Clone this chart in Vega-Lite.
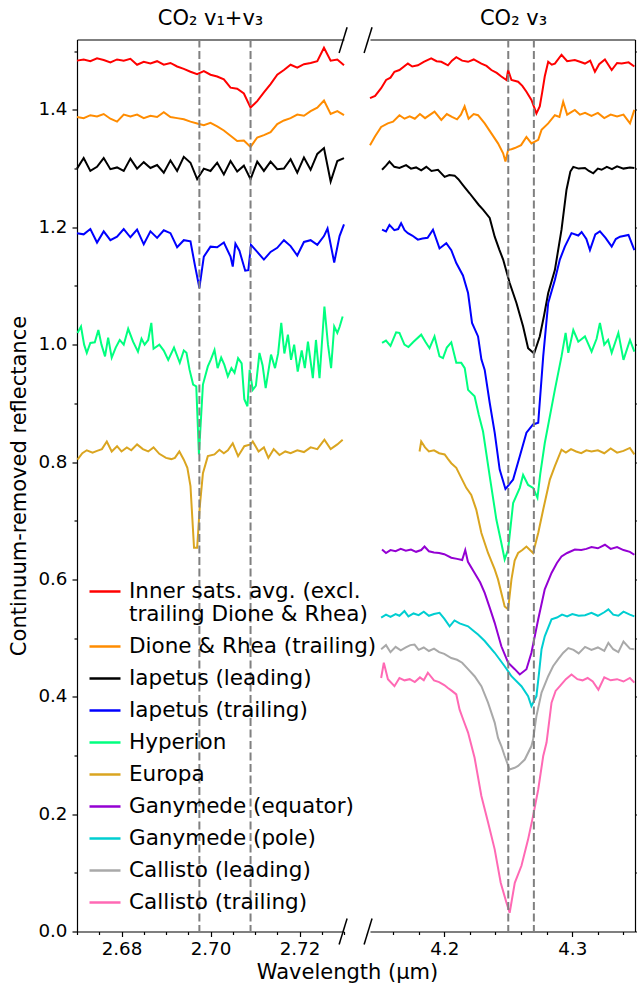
{
"$schema": "https://vega.github.io/schema/vega-lite/v6.json",
"padding": {"left": 8, "top": 7.5, "right": 0, "bottom": 0},
"config": {
 "font": "DejaVu Sans",
 "view": {"stroke": null},
 "axis": {"grid": false, "domainColor": "#000", "tickColor": "#000", "labelColor": "#000", "titleColor": "#000", "domainWidth": 1.2, "tickWidth": 1.2, "labelFontSize": 18.3, "titleFontSize": 21, "titleFontWeight": "normal", "labelFont": "DejaVu Sans", "titleFont": "DejaVu Sans"},
 "title": {"font": "DejaVu Sans", "fontSize": 21, "fontWeight": "normal", "color": "#000"}
},
"datasets": {
 "left": [
{"series":"Inner sats. avg. (excl. trailing Dione & Rhea)","x":2.6700,"y":1.484},
{"series":"Inner sats. avg. (excl. trailing Dione & Rhea)","x":2.6715,"y":1.486},
{"series":"Inner sats. avg. (excl. trailing Dione & Rhea)","x":2.6730,"y":1.483},
{"series":"Inner sats. avg. (excl. trailing Dione & Rhea)","x":2.6745,"y":1.488},
{"series":"Inner sats. avg. (excl. trailing Dione & Rhea)","x":2.6760,"y":1.485},
{"series":"Inner sats. avg. (excl. trailing Dione & Rhea)","x":2.6775,"y":1.481},
{"series":"Inner sats. avg. (excl. trailing Dione & Rhea)","x":2.6790,"y":1.486},
{"series":"Inner sats. avg. (excl. trailing Dione & Rhea)","x":2.6805,"y":1.484},
{"series":"Inner sats. avg. (excl. trailing Dione & Rhea)","x":2.6820,"y":1.487},
{"series":"Inner sats. avg. (excl. trailing Dione & Rhea)","x":2.6835,"y":1.477},
{"series":"Inner sats. avg. (excl. trailing Dione & Rhea)","x":2.6850,"y":1.482},
{"series":"Inner sats. avg. (excl. trailing Dione & Rhea)","x":2.6865,"y":1.479},
{"series":"Inner sats. avg. (excl. trailing Dione & Rhea)","x":2.6880,"y":1.483},
{"series":"Inner sats. avg. (excl. trailing Dione & Rhea)","x":2.6895,"y":1.477},
{"series":"Inner sats. avg. (excl. trailing Dione & Rhea)","x":2.6910,"y":1.480},
{"series":"Inner sats. avg. (excl. trailing Dione & Rhea)","x":2.6925,"y":1.474},
{"series":"Inner sats. avg. (excl. trailing Dione & Rhea)","x":2.6940,"y":1.470},
{"series":"Inner sats. avg. (excl. trailing Dione & Rhea)","x":2.6955,"y":1.465},
{"series":"Inner sats. avg. (excl. trailing Dione & Rhea)","x":2.6970,"y":1.461},
{"series":"Inner sats. avg. (excl. trailing Dione & Rhea)","x":2.6985,"y":1.466},
{"series":"Inner sats. avg. (excl. trailing Dione & Rhea)","x":2.7000,"y":1.460},
{"series":"Inner sats. avg. (excl. trailing Dione & Rhea)","x":2.7015,"y":1.457},
{"series":"Inner sats. avg. (excl. trailing Dione & Rhea)","x":2.7030,"y":1.452},
{"series":"Inner sats. avg. (excl. trailing Dione & Rhea)","x":2.7045,"y":1.438},
{"series":"Inner sats. avg. (excl. trailing Dione & Rhea)","x":2.7060,"y":1.436},
{"series":"Inner sats. avg. (excl. trailing Dione & Rhea)","x":2.7075,"y":1.428},
{"series":"Inner sats. avg. (excl. trailing Dione & Rhea)","x":2.7090,"y":1.404},
{"series":"Inner sats. avg. (excl. trailing Dione & Rhea)","x":2.7105,"y":1.415},
{"series":"Inner sats. avg. (excl. trailing Dione & Rhea)","x":2.7120,"y":1.430},
{"series":"Inner sats. avg. (excl. trailing Dione & Rhea)","x":2.7135,"y":1.444},
{"series":"Inner sats. avg. (excl. trailing Dione & Rhea)","x":2.7150,"y":1.460},
{"series":"Inner sats. avg. (excl. trailing Dione & Rhea)","x":2.7165,"y":1.468},
{"series":"Inner sats. avg. (excl. trailing Dione & Rhea)","x":2.7180,"y":1.477},
{"series":"Inner sats. avg. (excl. trailing Dione & Rhea)","x":2.7195,"y":1.472},
{"series":"Inner sats. avg. (excl. trailing Dione & Rhea)","x":2.7210,"y":1.478},
{"series":"Inner sats. avg. (excl. trailing Dione & Rhea)","x":2.7225,"y":1.480},
{"series":"Inner sats. avg. (excl. trailing Dione & Rhea)","x":2.7240,"y":1.483},
{"series":"Inner sats. avg. (excl. trailing Dione & Rhea)","x":2.7255,"y":1.506},
{"series":"Inner sats. avg. (excl. trailing Dione & Rhea)","x":2.7270,"y":1.484},
{"series":"Inner sats. avg. (excl. trailing Dione & Rhea)","x":2.7285,"y":1.486},
{"series":"Inner sats. avg. (excl. trailing Dione & Rhea)","x":2.7300,"y":1.476},
{"series":"Dione & Rhea (trailing)","x":2.6700,"y":1.388},
{"series":"Dione & Rhea (trailing)","x":2.6715,"y":1.386},
{"series":"Dione & Rhea (trailing)","x":2.6730,"y":1.391},
{"series":"Dione & Rhea (trailing)","x":2.6745,"y":1.389},
{"series":"Dione & Rhea (trailing)","x":2.6760,"y":1.393},
{"series":"Dione & Rhea (trailing)","x":2.6775,"y":1.385},
{"series":"Dione & Rhea (trailing)","x":2.6790,"y":1.380},
{"series":"Dione & Rhea (trailing)","x":2.6805,"y":1.392},
{"series":"Dione & Rhea (trailing)","x":2.6820,"y":1.389},
{"series":"Dione & Rhea (trailing)","x":2.6835,"y":1.392},
{"series":"Dione & Rhea (trailing)","x":2.6850,"y":1.386},
{"series":"Dione & Rhea (trailing)","x":2.6865,"y":1.390},
{"series":"Dione & Rhea (trailing)","x":2.6880,"y":1.388},
{"series":"Dione & Rhea (trailing)","x":2.6895,"y":1.396},
{"series":"Dione & Rhea (trailing)","x":2.6910,"y":1.388},
{"series":"Dione & Rhea (trailing)","x":2.6925,"y":1.386},
{"series":"Dione & Rhea (trailing)","x":2.6940,"y":1.384},
{"series":"Dione & Rhea (trailing)","x":2.6955,"y":1.380},
{"series":"Dione & Rhea (trailing)","x":2.6970,"y":1.377},
{"series":"Dione & Rhea (trailing)","x":2.6985,"y":1.374},
{"series":"Dione & Rhea (trailing)","x":2.7000,"y":1.378},
{"series":"Dione & Rhea (trailing)","x":2.7015,"y":1.372},
{"series":"Dione & Rhea (trailing)","x":2.7030,"y":1.365},
{"series":"Dione & Rhea (trailing)","x":2.7045,"y":1.356},
{"series":"Dione & Rhea (trailing)","x":2.7060,"y":1.347},
{"series":"Dione & Rhea (trailing)","x":2.7075,"y":1.348},
{"series":"Dione & Rhea (trailing)","x":2.7090,"y":1.337},
{"series":"Dione & Rhea (trailing)","x":2.7105,"y":1.353},
{"series":"Dione & Rhea (trailing)","x":2.7120,"y":1.357},
{"series":"Dione & Rhea (trailing)","x":2.7135,"y":1.362},
{"series":"Dione & Rhea (trailing)","x":2.7150,"y":1.376},
{"series":"Dione & Rhea (trailing)","x":2.7165,"y":1.382},
{"series":"Dione & Rhea (trailing)","x":2.7180,"y":1.386},
{"series":"Dione & Rhea (trailing)","x":2.7195,"y":1.392},
{"series":"Dione & Rhea (trailing)","x":2.7210,"y":1.390},
{"series":"Dione & Rhea (trailing)","x":2.7225,"y":1.398},
{"series":"Dione & Rhea (trailing)","x":2.7240,"y":1.404},
{"series":"Dione & Rhea (trailing)","x":2.7255,"y":1.416},
{"series":"Dione & Rhea (trailing)","x":2.7270,"y":1.393},
{"series":"Dione & Rhea (trailing)","x":2.7285,"y":1.398},
{"series":"Dione & Rhea (trailing)","x":2.7300,"y":1.391},
{"series":"Iapetus (leading)","x":2.6700,"y":1.300},
{"series":"Iapetus (leading)","x":2.6715,"y":1.318},
{"series":"Iapetus (leading)","x":2.6730,"y":1.296},
{"series":"Iapetus (leading)","x":2.6745,"y":1.303},
{"series":"Iapetus (leading)","x":2.6760,"y":1.318},
{"series":"Iapetus (leading)","x":2.6775,"y":1.299},
{"series":"Iapetus (leading)","x":2.6790,"y":1.302},
{"series":"Iapetus (leading)","x":2.6805,"y":1.296},
{"series":"Iapetus (leading)","x":2.6820,"y":1.317},
{"series":"Iapetus (leading)","x":2.6835,"y":1.300},
{"series":"Iapetus (leading)","x":2.6850,"y":1.311},
{"series":"Iapetus (leading)","x":2.6865,"y":1.301},
{"series":"Iapetus (leading)","x":2.6880,"y":1.306},
{"series":"Iapetus (leading)","x":2.6895,"y":1.293},
{"series":"Iapetus (leading)","x":2.6910,"y":1.314},
{"series":"Iapetus (leading)","x":2.6925,"y":1.296},
{"series":"Iapetus (leading)","x":2.6940,"y":1.320},
{"series":"Iapetus (leading)","x":2.6955,"y":1.310},
{"series":"Iapetus (leading)","x":2.6970,"y":1.282},
{"series":"Iapetus (leading)","x":2.6985,"y":1.300},
{"series":"Iapetus (leading)","x":2.7000,"y":1.296},
{"series":"Iapetus (leading)","x":2.7015,"y":1.310},
{"series":"Iapetus (leading)","x":2.7030,"y":1.290},
{"series":"Iapetus (leading)","x":2.7045,"y":1.313},
{"series":"Iapetus (leading)","x":2.7060,"y":1.295},
{"series":"Iapetus (leading)","x":2.7075,"y":1.305},
{"series":"Iapetus (leading)","x":2.7090,"y":1.282},
{"series":"Iapetus (leading)","x":2.7105,"y":1.312},
{"series":"Iapetus (leading)","x":2.7120,"y":1.296},
{"series":"Iapetus (leading)","x":2.7135,"y":1.312},
{"series":"Iapetus (leading)","x":2.7150,"y":1.299},
{"series":"Iapetus (leading)","x":2.7165,"y":1.300},
{"series":"Iapetus (leading)","x":2.7180,"y":1.316},
{"series":"Iapetus (leading)","x":2.7195,"y":1.293},
{"series":"Iapetus (leading)","x":2.7210,"y":1.319},
{"series":"Iapetus (leading)","x":2.7225,"y":1.298},
{"series":"Iapetus (leading)","x":2.7240,"y":1.325},
{"series":"Iapetus (leading)","x":2.7255,"y":1.335},
{"series":"Iapetus (leading)","x":2.7270,"y":1.278},
{"series":"Iapetus (leading)","x":2.7285,"y":1.313},
{"series":"Iapetus (leading)","x":2.7300,"y":1.318},
{"series":"Iapetus (trailing)","x":2.6700,"y":1.190},
{"series":"Iapetus (trailing)","x":2.6715,"y":1.188},
{"series":"Iapetus (trailing)","x":2.6730,"y":1.197},
{"series":"Iapetus (trailing)","x":2.6745,"y":1.174},
{"series":"Iapetus (trailing)","x":2.6760,"y":1.193},
{"series":"Iapetus (trailing)","x":2.6775,"y":1.178},
{"series":"Iapetus (trailing)","x":2.6790,"y":1.184},
{"series":"Iapetus (trailing)","x":2.6805,"y":1.197},
{"series":"Iapetus (trailing)","x":2.6820,"y":1.183},
{"series":"Iapetus (trailing)","x":2.6835,"y":1.196},
{"series":"Iapetus (trailing)","x":2.6850,"y":1.171},
{"series":"Iapetus (trailing)","x":2.6865,"y":1.193},
{"series":"Iapetus (trailing)","x":2.6880,"y":1.182},
{"series":"Iapetus (trailing)","x":2.6895,"y":1.195},
{"series":"Iapetus (trailing)","x":2.6910,"y":1.190},
{"series":"Iapetus (trailing)","x":2.6925,"y":1.166},
{"series":"Iapetus (trailing)","x":2.6940,"y":1.178},
{"series":"Iapetus (trailing)","x":2.6955,"y":1.176},
{"series":"Iapetus (trailing)","x":2.6965,"y":1.135},
{"series":"Iapetus (trailing)","x":2.6975,"y":1.097},
{"series":"Iapetus (trailing)","x":2.6985,"y":1.150},
{"series":"Iapetus (trailing)","x":2.7000,"y":1.167},
{"series":"Iapetus (trailing)","x":2.7015,"y":1.166},
{"series":"Iapetus (trailing)","x":2.7030,"y":1.174},
{"series":"Iapetus (trailing)","x":2.7045,"y":1.150},
{"series":"Iapetus (trailing)","x":2.7050,"y":1.133},
{"series":"Iapetus (trailing)","x":2.7056,"y":1.172},
{"series":"Iapetus (trailing)","x":2.7065,"y":1.160},
{"series":"Iapetus (trailing)","x":2.7078,"y":1.126},
{"series":"Iapetus (trailing)","x":2.7085,"y":1.127},
{"series":"Iapetus (trailing)","x":2.7091,"y":1.170},
{"series":"Iapetus (trailing)","x":2.7105,"y":1.158},
{"series":"Iapetus (trailing)","x":2.7120,"y":1.145},
{"series":"Iapetus (trailing)","x":2.7135,"y":1.158},
{"series":"Iapetus (trailing)","x":2.7150,"y":1.165},
{"series":"Iapetus (trailing)","x":2.7165,"y":1.178},
{"series":"Iapetus (trailing)","x":2.7180,"y":1.168},
{"series":"Iapetus (trailing)","x":2.7195,"y":1.152},
{"series":"Iapetus (trailing)","x":2.7210,"y":1.175},
{"series":"Iapetus (trailing)","x":2.7225,"y":1.178},
{"series":"Iapetus (trailing)","x":2.7240,"y":1.170},
{"series":"Iapetus (trailing)","x":2.7255,"y":1.185},
{"series":"Iapetus (trailing)","x":2.7263,"y":1.198},
{"series":"Iapetus (trailing)","x":2.7278,"y":1.140},
{"series":"Iapetus (trailing)","x":2.7290,"y":1.185},
{"series":"Iapetus (trailing)","x":2.7300,"y":1.205},
{"series":"Hyperion","x":2.6701,"y":1.020},
{"series":"Hyperion","x":2.6709,"y":1.031},
{"series":"Hyperion","x":2.6716,"y":1.000},
{"series":"Hyperion","x":2.6722,"y":0.986},
{"series":"Hyperion","x":2.6730,"y":1.003},
{"series":"Hyperion","x":2.6740,"y":1.004},
{"series":"Hyperion","x":2.6748,"y":1.025},
{"series":"Hyperion","x":2.6755,"y":1.000},
{"series":"Hyperion","x":2.6763,"y":0.980},
{"series":"Hyperion","x":2.6770,"y":1.012},
{"series":"Hyperion","x":2.6778,"y":0.978},
{"series":"Hyperion","x":2.6787,"y":0.995},
{"series":"Hyperion","x":2.6796,"y":1.008},
{"series":"Hyperion","x":2.6805,"y":1.000},
{"series":"Hyperion","x":2.6815,"y":1.027},
{"series":"Hyperion","x":2.6826,"y":1.005},
{"series":"Hyperion","x":2.6837,"y":0.988},
{"series":"Hyperion","x":2.6845,"y":1.010},
{"series":"Hyperion","x":2.6852,"y":1.000},
{"series":"Hyperion","x":2.6860,"y":1.008},
{"series":"Hyperion","x":2.6867,"y":1.037},
{"series":"Hyperion","x":2.6872,"y":0.993},
{"series":"Hyperion","x":2.6885,"y":1.000},
{"series":"Hyperion","x":2.6895,"y":0.990},
{"series":"Hyperion","x":2.6905,"y":0.974},
{"series":"Hyperion","x":2.6918,"y":0.995},
{"series":"Hyperion","x":2.6931,"y":0.969},
{"series":"Hyperion","x":2.6940,"y":0.990},
{"series":"Hyperion","x":2.6946,"y":0.986},
{"series":"Hyperion","x":2.6953,"y":0.957},
{"series":"Hyperion","x":2.6961,"y":0.932},
{"series":"Hyperion","x":2.6968,"y":0.929},
{"series":"Hyperion","x":2.6974,"y":0.813},
{"series":"Hyperion","x":2.6983,"y":0.932},
{"series":"Hyperion","x":2.6994,"y":0.963},
{"series":"Hyperion","x":2.7001,"y":0.975},
{"series":"Hyperion","x":2.7009,"y":0.991},
{"series":"Hyperion","x":2.7016,"y":0.960},
{"series":"Hyperion","x":2.7024,"y":0.978},
{"series":"Hyperion","x":2.7031,"y":0.966},
{"series":"Hyperion","x":2.7039,"y":0.946},
{"series":"Hyperion","x":2.7047,"y":0.960},
{"series":"Hyperion","x":2.7054,"y":0.952},
{"series":"Hyperion","x":2.7062,"y":0.977},
{"series":"Hyperion","x":2.7070,"y":0.968},
{"series":"Hyperion","x":2.7076,"y":0.907},
{"series":"Hyperion","x":2.7083,"y":0.895},
{"series":"Hyperion","x":2.7088,"y":0.957},
{"series":"Hyperion","x":2.7095,"y":0.923},
{"series":"Hyperion","x":2.7102,"y":0.930},
{"series":"Hyperion","x":2.7110,"y":0.986},
{"series":"Hyperion","x":2.7117,"y":0.965},
{"series":"Hyperion","x":2.7124,"y":0.926},
{"series":"Hyperion","x":2.7136,"y":0.983},
{"series":"Hyperion","x":2.7145,"y":0.960},
{"series":"Hyperion","x":2.7152,"y":0.985},
{"series":"Hyperion","x":2.7159,"y":1.037},
{"series":"Hyperion","x":2.7166,"y":0.985},
{"series":"Hyperion","x":2.7174,"y":1.017},
{"series":"Hyperion","x":2.7181,"y":0.974},
{"series":"Hyperion","x":2.7188,"y":1.000},
{"series":"Hyperion","x":2.7196,"y":0.954},
{"series":"Hyperion","x":2.7205,"y":0.990},
{"series":"Hyperion","x":2.7212,"y":0.960},
{"series":"Hyperion","x":2.7219,"y":1.005},
{"series":"Hyperion","x":2.7230,"y":0.943},
{"series":"Hyperion","x":2.7237,"y":1.008},
{"series":"Hyperion","x":2.7245,"y":0.943},
{"series":"Hyperion","x":2.7256,"y":1.065},
{"series":"Hyperion","x":2.7264,"y":1.000},
{"series":"Hyperion","x":2.7271,"y":0.960},
{"series":"Hyperion","x":2.7278,"y":1.031},
{"series":"Hyperion","x":2.7285,"y":1.020},
{"series":"Hyperion","x":2.7290,"y":1.030},
{"series":"Hyperion","x":2.7297,"y":1.048},
{"series":"Europa","x":2.6701,"y":0.804},
{"series":"Europa","x":2.6712,"y":0.815},
{"series":"Europa","x":2.6722,"y":0.820},
{"series":"Europa","x":2.6735,"y":0.816},
{"series":"Europa","x":2.6745,"y":0.819},
{"series":"Europa","x":2.6756,"y":0.822},
{"series":"Europa","x":2.6767,"y":0.835},
{"series":"Europa","x":2.6778,"y":0.818},
{"series":"Europa","x":2.6790,"y":0.827},
{"series":"Europa","x":2.6800,"y":0.818},
{"series":"Europa","x":2.6812,"y":0.825},
{"series":"Europa","x":2.6822,"y":0.820},
{"series":"Europa","x":2.6835,"y":0.830},
{"series":"Europa","x":2.6848,"y":0.822},
{"series":"Europa","x":2.6860,"y":0.818},
{"series":"Europa","x":2.6872,"y":0.825},
{"series":"Europa","x":2.6885,"y":0.814},
{"series":"Europa","x":2.6900,"y":0.807},
{"series":"Europa","x":2.6912,"y":0.805},
{"series":"Europa","x":2.6920,"y":0.807},
{"series":"Europa","x":2.6930,"y":0.818},
{"series":"Europa","x":2.6940,"y":0.804},
{"series":"Europa","x":2.6948,"y":0.790},
{"series":"Europa","x":2.6955,"y":0.759},
{"series":"Europa","x":2.6963,"y":0.654},
{"series":"Europa","x":2.6970,"y":0.654},
{"series":"Europa","x":2.6976,"y":0.725},
{"series":"Europa","x":2.6983,"y":0.781},
{"series":"Europa","x":2.6994,"y":0.810},
{"series":"Europa","x":2.7009,"y":0.813},
{"series":"Europa","x":2.7020,"y":0.821},
{"series":"Europa","x":2.7030,"y":0.815},
{"series":"Europa","x":2.7039,"y":0.820},
{"series":"Europa","x":2.7050,"y":0.832},
{"series":"Europa","x":2.7062,"y":0.810},
{"series":"Europa","x":2.7076,"y":0.827},
{"series":"Europa","x":2.7090,"y":0.830},
{"series":"Europa","x":2.7095,"y":0.835},
{"series":"Europa","x":2.7108,"y":0.818},
{"series":"Europa","x":2.7120,"y":0.825},
{"series":"Europa","x":2.7130,"y":0.807},
{"series":"Europa","x":2.7142,"y":0.822},
{"series":"Europa","x":2.7155,"y":0.812},
{"series":"Europa","x":2.7168,"y":0.818},
{"series":"Europa","x":2.7180,"y":0.815},
{"series":"Europa","x":2.7195,"y":0.820},
{"series":"Europa","x":2.7210,"y":0.817},
{"series":"Europa","x":2.7225,"y":0.825},
{"series":"Europa","x":2.7240,"y":0.822},
{"series":"Europa","x":2.7256,"y":0.838},
{"series":"Europa","x":2.7270,"y":0.822},
{"series":"Europa","x":2.7285,"y":0.830},
{"series":"Europa","x":2.7297,"y":0.838}
 ],
 "right": [
{"series":"Inner sats. avg. (excl. trailing Dione & Rhea)","x":4.1420,"y":1.420},
{"series":"Inner sats. avg. (excl. trailing Dione & Rhea)","x":4.1460,"y":1.424},
{"series":"Inner sats. avg. (excl. trailing Dione & Rhea)","x":4.1507,"y":1.437},
{"series":"Inner sats. avg. (excl. trailing Dione & Rhea)","x":4.1546,"y":1.451},
{"series":"Inner sats. avg. (excl. trailing Dione & Rhea)","x":4.1580,"y":1.455},
{"series":"Inner sats. avg. (excl. trailing Dione & Rhea)","x":4.1611,"y":1.465},
{"series":"Inner sats. avg. (excl. trailing Dione & Rhea)","x":4.1650,"y":1.468},
{"series":"Inner sats. avg. (excl. trailing Dione & Rhea)","x":4.1716,"y":1.479},
{"series":"Inner sats. avg. (excl. trailing Dione & Rhea)","x":4.1750,"y":1.474},
{"series":"Inner sats. avg. (excl. trailing Dione & Rhea)","x":4.1794,"y":1.476},
{"series":"Inner sats. avg. (excl. trailing Dione & Rhea)","x":4.1840,"y":1.482},
{"series":"Inner sats. avg. (excl. trailing Dione & Rhea)","x":4.1898,"y":1.488},
{"series":"Inner sats. avg. (excl. trailing Dione & Rhea)","x":4.1940,"y":1.483},
{"series":"Inner sats. avg. (excl. trailing Dione & Rhea)","x":4.1977,"y":1.482},
{"series":"Inner sats. avg. (excl. trailing Dione & Rhea)","x":4.2029,"y":1.476},
{"series":"Inner sats. avg. (excl. trailing Dione & Rhea)","x":4.2060,"y":1.484},
{"series":"Inner sats. avg. (excl. trailing Dione & Rhea)","x":4.2094,"y":1.490},
{"series":"Inner sats. avg. (excl. trailing Dione & Rhea)","x":4.2140,"y":1.484},
{"series":"Inner sats. avg. (excl. trailing Dione & Rhea)","x":4.2186,"y":1.482},
{"series":"Inner sats. avg. (excl. trailing Dione & Rhea)","x":4.2230,"y":1.486},
{"series":"Inner sats. avg. (excl. trailing Dione & Rhea)","x":4.2290,"y":1.479},
{"series":"Inner sats. avg. (excl. trailing Dione & Rhea)","x":4.2330,"y":1.475},
{"series":"Inner sats. avg. (excl. trailing Dione & Rhea)","x":4.2368,"y":1.468},
{"series":"Inner sats. avg. (excl. trailing Dione & Rhea)","x":4.2410,"y":1.463},
{"series":"Inner sats. avg. (excl. trailing Dione & Rhea)","x":4.2446,"y":1.457},
{"series":"Inner sats. avg. (excl. trailing Dione & Rhea)","x":4.2486,"y":1.451},
{"series":"Inner sats. avg. (excl. trailing Dione & Rhea)","x":4.2499,"y":1.468},
{"series":"Inner sats. avg. (excl. trailing Dione & Rhea)","x":4.2525,"y":1.451},
{"series":"Inner sats. avg. (excl. trailing Dione & Rhea)","x":4.2577,"y":1.448},
{"series":"Inner sats. avg. (excl. trailing Dione & Rhea)","x":4.2610,"y":1.441},
{"series":"Inner sats. avg. (excl. trailing Dione & Rhea)","x":4.2642,"y":1.431},
{"series":"Inner sats. avg. (excl. trailing Dione & Rhea)","x":4.2681,"y":1.417},
{"series":"Inner sats. avg. (excl. trailing Dione & Rhea)","x":4.2720,"y":1.394},
{"series":"Inner sats. avg. (excl. trailing Dione & Rhea)","x":4.2746,"y":1.406},
{"series":"Inner sats. avg. (excl. trailing Dione & Rhea)","x":4.2765,"y":1.430},
{"series":"Inner sats. avg. (excl. trailing Dione & Rhea)","x":4.2785,"y":1.457},
{"series":"Inner sats. avg. (excl. trailing Dione & Rhea)","x":4.2812,"y":1.482},
{"series":"Inner sats. avg. (excl. trailing Dione & Rhea)","x":4.2840,"y":1.477},
{"series":"Inner sats. avg. (excl. trailing Dione & Rhea)","x":4.2864,"y":1.479},
{"series":"Inner sats. avg. (excl. trailing Dione & Rhea)","x":4.2916,"y":1.494},
{"series":"Inner sats. avg. (excl. trailing Dione & Rhea)","x":4.2960,"y":1.483},
{"series":"Inner sats. avg. (excl. trailing Dione & Rhea)","x":4.3020,"y":1.485},
{"series":"Inner sats. avg. (excl. trailing Dione & Rhea)","x":4.3060,"y":1.482},
{"series":"Inner sats. avg. (excl. trailing Dione & Rhea)","x":4.3099,"y":1.479},
{"series":"Inner sats. avg. (excl. trailing Dione & Rhea)","x":4.3140,"y":1.484},
{"series":"Inner sats. avg. (excl. trailing Dione & Rhea)","x":4.3177,"y":1.465},
{"series":"Inner sats. avg. (excl. trailing Dione & Rhea)","x":4.3210,"y":1.478},
{"series":"Inner sats. avg. (excl. trailing Dione & Rhea)","x":4.3255,"y":1.486},
{"series":"Inner sats. avg. (excl. trailing Dione & Rhea)","x":4.3308,"y":1.468},
{"series":"Inner sats. avg. (excl. trailing Dione & Rhea)","x":4.3350,"y":1.480},
{"series":"Inner sats. avg. (excl. trailing Dione & Rhea)","x":4.3386,"y":1.479},
{"series":"Inner sats. avg. (excl. trailing Dione & Rhea)","x":4.3440,"y":1.481},
{"series":"Inner sats. avg. (excl. trailing Dione & Rhea)","x":4.3485,"y":1.474},
{"series":"Dione & Rhea (trailing)","x":4.1420,"y":1.340},
{"series":"Dione & Rhea (trailing)","x":4.1460,"y":1.355},
{"series":"Dione & Rhea (trailing)","x":4.1507,"y":1.371},
{"series":"Dione & Rhea (trailing)","x":4.1559,"y":1.377},
{"series":"Dione & Rhea (trailing)","x":4.1600,"y":1.380},
{"series":"Dione & Rhea (trailing)","x":4.1650,"y":1.391},
{"series":"Dione & Rhea (trailing)","x":4.1690,"y":1.385},
{"series":"Dione & Rhea (trailing)","x":4.1730,"y":1.389},
{"series":"Dione & Rhea (trailing)","x":4.1770,"y":1.385},
{"series":"Dione & Rhea (trailing)","x":4.1810,"y":1.393},
{"series":"Dione & Rhea (trailing)","x":4.1850,"y":1.386},
{"series":"Dione & Rhea (trailing)","x":4.1890,"y":1.392},
{"series":"Dione & Rhea (trailing)","x":4.1924,"y":1.397},
{"series":"Dione & Rhea (trailing)","x":4.1977,"y":1.383},
{"series":"Dione & Rhea (trailing)","x":4.2020,"y":1.393},
{"series":"Dione & Rhea (trailing)","x":4.2060,"y":1.388},
{"series":"Dione & Rhea (trailing)","x":4.2100,"y":1.384},
{"series":"Dione & Rhea (trailing)","x":4.2130,"y":1.392},
{"series":"Dione & Rhea (trailing)","x":4.2159,"y":1.406},
{"series":"Dione & Rhea (trailing)","x":4.2190,"y":1.385},
{"series":"Dione & Rhea (trailing)","x":4.2230,"y":1.393},
{"series":"Dione & Rhea (trailing)","x":4.2264,"y":1.391},
{"series":"Dione & Rhea (trailing)","x":4.2316,"y":1.377},
{"series":"Dione & Rhea (trailing)","x":4.2368,"y":1.360},
{"series":"Dione & Rhea (trailing)","x":4.2420,"y":1.343},
{"series":"Dione & Rhea (trailing)","x":4.2460,"y":1.326},
{"series":"Dione & Rhea (trailing)","x":4.2478,"y":1.312},
{"series":"Dione & Rhea (trailing)","x":4.2499,"y":1.332},
{"series":"Dione & Rhea (trailing)","x":4.2525,"y":1.333},
{"series":"Dione & Rhea (trailing)","x":4.2551,"y":1.335},
{"series":"Dione & Rhea (trailing)","x":4.2600,"y":1.340},
{"series":"Dione & Rhea (trailing)","x":4.2642,"y":1.354},
{"series":"Dione & Rhea (trailing)","x":4.2681,"y":1.343},
{"series":"Dione & Rhea (trailing)","x":4.2734,"y":1.349},
{"series":"Dione & Rhea (trailing)","x":4.2760,"y":1.366},
{"series":"Dione & Rhea (trailing)","x":4.2812,"y":1.377},
{"series":"Dione & Rhea (trailing)","x":4.2864,"y":1.391},
{"series":"Dione & Rhea (trailing)","x":4.2900,"y":1.388},
{"series":"Dione & Rhea (trailing)","x":4.2929,"y":1.414},
{"series":"Dione & Rhea (trailing)","x":4.2960,"y":1.392},
{"series":"Dione & Rhea (trailing)","x":4.3020,"y":1.400},
{"series":"Dione & Rhea (trailing)","x":4.3060,"y":1.392},
{"series":"Dione & Rhea (trailing)","x":4.3100,"y":1.395},
{"series":"Dione & Rhea (trailing)","x":4.3150,"y":1.390},
{"series":"Dione & Rhea (trailing)","x":4.3200,"y":1.395},
{"series":"Dione & Rhea (trailing)","x":4.3250,"y":1.386},
{"series":"Dione & Rhea (trailing)","x":4.3300,"y":1.392},
{"series":"Dione & Rhea (trailing)","x":4.3350,"y":1.389},
{"series":"Dione & Rhea (trailing)","x":4.3400,"y":1.392},
{"series":"Dione & Rhea (trailing)","x":4.3451,"y":1.377},
{"series":"Dione & Rhea (trailing)","x":4.3485,"y":1.400},
{"series":"Iapetus (leading)","x":4.1514,"y":1.298},
{"series":"Iapetus (leading)","x":4.1545,"y":1.305},
{"series":"Iapetus (leading)","x":4.1572,"y":1.312},
{"series":"Iapetus (leading)","x":4.1610,"y":1.303},
{"series":"Iapetus (leading)","x":4.1650,"y":1.301},
{"series":"Iapetus (leading)","x":4.1702,"y":1.306},
{"series":"Iapetus (leading)","x":4.1740,"y":1.300},
{"series":"Iapetus (leading)","x":4.1780,"y":1.302},
{"series":"Iapetus (leading)","x":4.1820,"y":1.297},
{"series":"Iapetus (leading)","x":4.1860,"y":1.303},
{"series":"Iapetus (leading)","x":4.1900,"y":1.296},
{"series":"Iapetus (leading)","x":4.1951,"y":1.298},
{"series":"Iapetus (leading)","x":4.2003,"y":1.286},
{"series":"Iapetus (leading)","x":4.2040,"y":1.289},
{"series":"Iapetus (leading)","x":4.2081,"y":1.288},
{"series":"Iapetus (leading)","x":4.2110,"y":1.282},
{"series":"Iapetus (leading)","x":4.2146,"y":1.272},
{"series":"Iapetus (leading)","x":4.2198,"y":1.258},
{"series":"Iapetus (leading)","x":4.2237,"y":1.247},
{"series":"Iapetus (leading)","x":4.2270,"y":1.238},
{"series":"Iapetus (leading)","x":4.2303,"y":1.230},
{"series":"Iapetus (leading)","x":4.2355,"y":1.216},
{"series":"Iapetus (leading)","x":4.2394,"y":1.184},
{"series":"Iapetus (leading)","x":4.2430,"y":1.162},
{"series":"Iapetus (leading)","x":4.2460,"y":1.145},
{"series":"Iapetus (leading)","x":4.2511,"y":1.105},
{"series":"Iapetus (leading)","x":4.2564,"y":1.071},
{"series":"Iapetus (leading)","x":4.2616,"y":1.031},
{"series":"Iapetus (leading)","x":4.2655,"y":0.994},
{"series":"Iapetus (leading)","x":4.2702,"y":0.985},
{"series":"Iapetus (leading)","x":4.2746,"y":1.014},
{"series":"Iapetus (leading)","x":4.2780,"y":1.050},
{"series":"Iapetus (leading)","x":4.2812,"y":1.088},
{"series":"Iapetus (leading)","x":4.2864,"y":1.127},
{"series":"Iapetus (leading)","x":4.2916,"y":1.196},
{"series":"Iapetus (leading)","x":4.2955,"y":1.264},
{"series":"Iapetus (leading)","x":4.2985,"y":1.295},
{"series":"Iapetus (leading)","x":4.3008,"y":1.303},
{"series":"Iapetus (leading)","x":4.3050,"y":1.300},
{"series":"Iapetus (leading)","x":4.3099,"y":1.301},
{"series":"Iapetus (leading)","x":4.3130,"y":1.296},
{"series":"Iapetus (leading)","x":4.3164,"y":1.292},
{"series":"Iapetus (leading)","x":4.3200,"y":1.300},
{"series":"Iapetus (leading)","x":4.3229,"y":1.298},
{"series":"Iapetus (leading)","x":4.3270,"y":1.303},
{"series":"Iapetus (leading)","x":4.3310,"y":1.299},
{"series":"Iapetus (leading)","x":4.3350,"y":1.304},
{"series":"Iapetus (leading)","x":4.3400,"y":1.300},
{"series":"Iapetus (leading)","x":4.3450,"y":1.302},
{"series":"Iapetus (leading)","x":4.3485,"y":1.301},
{"series":"Iapetus (trailing)","x":4.1514,"y":1.196},
{"series":"Iapetus (trailing)","x":4.1545,"y":1.193},
{"series":"Iapetus (trailing)","x":4.1572,"y":1.204},
{"series":"Iapetus (trailing)","x":4.1610,"y":1.195},
{"series":"Iapetus (trailing)","x":4.1640,"y":1.197},
{"series":"Iapetus (trailing)","x":4.1663,"y":1.207},
{"series":"Iapetus (trailing)","x":4.1690,"y":1.195},
{"series":"Iapetus (trailing)","x":4.1716,"y":1.190},
{"series":"Iapetus (trailing)","x":4.1750,"y":1.186},
{"series":"Iapetus (trailing)","x":4.1794,"y":1.179},
{"series":"Iapetus (trailing)","x":4.1830,"y":1.181},
{"series":"Iapetus (trailing)","x":4.1870,"y":1.182},
{"series":"Iapetus (trailing)","x":4.1912,"y":1.196},
{"series":"Iapetus (trailing)","x":4.1963,"y":1.164},
{"series":"Iapetus (trailing)","x":4.2016,"y":1.173},
{"series":"Iapetus (trailing)","x":4.2055,"y":1.161},
{"series":"Iapetus (trailing)","x":4.2094,"y":1.139},
{"series":"Iapetus (trailing)","x":4.2146,"y":1.118},
{"series":"Iapetus (trailing)","x":4.2186,"y":1.088},
{"series":"Iapetus (trailing)","x":4.2217,"y":1.037},
{"series":"Iapetus (trailing)","x":4.2264,"y":1.014},
{"series":"Iapetus (trailing)","x":4.2290,"y":0.975},
{"series":"Iapetus (trailing)","x":4.2316,"y":0.957},
{"series":"Iapetus (trailing)","x":4.2355,"y":0.901},
{"series":"Iapetus (trailing)","x":4.2394,"y":0.850},
{"series":"Iapetus (trailing)","x":4.2433,"y":0.787},
{"series":"Iapetus (trailing)","x":4.2478,"y":0.754},
{"series":"Iapetus (trailing)","x":4.2538,"y":0.770},
{"series":"Iapetus (trailing)","x":4.2590,"y":0.810},
{"series":"Iapetus (trailing)","x":4.2642,"y":0.850},
{"series":"Iapetus (trailing)","x":4.2694,"y":0.864},
{"series":"Iapetus (trailing)","x":4.2734,"y":0.867},
{"series":"Iapetus (trailing)","x":4.2773,"y":0.980},
{"series":"Iapetus (trailing)","x":4.2812,"y":1.071},
{"series":"Iapetus (trailing)","x":4.2864,"y":1.110},
{"series":"Iapetus (trailing)","x":4.2903,"y":1.145},
{"series":"Iapetus (trailing)","x":4.2942,"y":1.167},
{"series":"Iapetus (trailing)","x":4.2994,"y":1.190},
{"series":"Iapetus (trailing)","x":4.3047,"y":1.186},
{"series":"Iapetus (trailing)","x":4.3073,"y":1.192},
{"series":"Iapetus (trailing)","x":4.3110,"y":1.180},
{"series":"Iapetus (trailing)","x":4.3138,"y":1.161},
{"series":"Iapetus (trailing)","x":4.3180,"y":1.188},
{"series":"Iapetus (trailing)","x":4.3216,"y":1.193},
{"series":"Iapetus (trailing)","x":4.3260,"y":1.182},
{"series":"Iapetus (trailing)","x":4.3308,"y":1.167},
{"series":"Iapetus (trailing)","x":4.3340,"y":1.180},
{"series":"Iapetus (trailing)","x":4.3373,"y":1.184},
{"series":"Iapetus (trailing)","x":4.3439,"y":1.187},
{"series":"Iapetus (trailing)","x":4.3485,"y":1.161},
{"series":"Hyperion","x":4.1514,"y":1.003},
{"series":"Hyperion","x":4.1545,"y":1.007},
{"series":"Hyperion","x":4.1580,"y":0.998},
{"series":"Hyperion","x":4.1624,"y":1.021},
{"series":"Hyperion","x":4.1650,"y":1.020},
{"series":"Hyperion","x":4.1689,"y":1.000},
{"series":"Hyperion","x":4.1720,"y":0.996},
{"series":"Hyperion","x":4.1760,"y":1.005},
{"series":"Hyperion","x":4.1820,"y":1.017},
{"series":"Hyperion","x":4.1855,"y":1.004},
{"series":"Hyperion","x":4.1885,"y":0.994},
{"series":"Hyperion","x":4.1924,"y":1.014},
{"series":"Hyperion","x":4.1963,"y":0.980},
{"series":"Hyperion","x":4.1990,"y":0.977},
{"series":"Hyperion","x":4.2020,"y":0.995},
{"series":"Hyperion","x":4.2055,"y":1.004},
{"series":"Hyperion","x":4.2094,"y":0.969},
{"series":"Hyperion","x":4.2133,"y":0.969},
{"series":"Hyperion","x":4.2160,"y":0.960},
{"series":"Hyperion","x":4.2186,"y":0.923},
{"series":"Hyperion","x":4.2237,"y":0.912},
{"series":"Hyperion","x":4.2270,"y":0.880},
{"series":"Hyperion","x":4.2303,"y":0.852},
{"series":"Hyperion","x":4.2355,"y":0.776},
{"series":"Hyperion","x":4.2407,"y":0.702},
{"series":"Hyperion","x":4.2446,"y":0.662},
{"series":"Hyperion","x":4.2472,"y":0.634},
{"series":"Hyperion","x":4.2499,"y":0.651},
{"series":"Hyperion","x":4.2538,"y":0.730},
{"series":"Hyperion","x":4.2590,"y":0.756},
{"series":"Hyperion","x":4.2616,"y":0.778},
{"series":"Hyperion","x":4.2655,"y":0.761},
{"series":"Hyperion","x":4.2694,"y":0.756},
{"series":"Hyperion","x":4.2728,"y":0.739},
{"series":"Hyperion","x":4.2750,"y":0.780},
{"series":"Hyperion","x":4.2785,"y":0.832},
{"series":"Hyperion","x":4.2864,"y":0.923},
{"series":"Hyperion","x":4.2916,"y":0.980},
{"series":"Hyperion","x":4.2948,"y":1.020},
{"series":"Hyperion","x":4.2969,"y":0.986},
{"series":"Hyperion","x":4.3008,"y":1.025},
{"series":"Hyperion","x":4.3047,"y":1.005},
{"series":"Hyperion","x":4.3099,"y":1.014},
{"series":"Hyperion","x":4.3151,"y":0.988},
{"series":"Hyperion","x":4.3190,"y":1.010},
{"series":"Hyperion","x":4.3216,"y":1.037},
{"series":"Hyperion","x":4.3250,"y":1.000},
{"series":"Hyperion","x":4.3280,"y":1.008},
{"series":"Hyperion","x":4.3308,"y":0.986},
{"series":"Hyperion","x":4.3360,"y":1.020},
{"series":"Hyperion","x":4.3400,"y":0.974},
{"series":"Hyperion","x":4.3451,"y":1.008},
{"series":"Hyperion","x":4.3485,"y":0.988},
{"series":"Europa","x":4.1807,"y":0.818},
{"series":"Europa","x":4.1820,"y":0.835},
{"series":"Europa","x":4.1850,"y":0.825},
{"series":"Europa","x":4.1880,"y":0.818},
{"series":"Europa","x":4.1920,"y":0.820},
{"series":"Europa","x":4.1960,"y":0.815},
{"series":"Europa","x":4.2003,"y":0.813},
{"series":"Europa","x":4.2030,"y":0.805},
{"series":"Europa","x":4.2055,"y":0.798},
{"series":"Europa","x":4.2094,"y":0.790},
{"series":"Europa","x":4.2133,"y":0.773},
{"series":"Europa","x":4.2172,"y":0.756},
{"series":"Europa","x":4.2211,"y":0.744},
{"series":"Europa","x":4.2250,"y":0.719},
{"series":"Europa","x":4.2290,"y":0.679},
{"series":"Europa","x":4.2342,"y":0.645},
{"series":"Europa","x":4.2394,"y":0.617},
{"series":"Europa","x":4.2420,"y":0.600},
{"series":"Europa","x":4.2472,"y":0.554},
{"series":"Europa","x":4.2499,"y":0.549},
{"series":"Europa","x":4.2525,"y":0.600},
{"series":"Europa","x":4.2550,"y":0.632},
{"series":"Europa","x":4.2577,"y":0.645},
{"series":"Europa","x":4.2610,"y":0.650},
{"series":"Europa","x":4.2642,"y":0.656},
{"series":"Europa","x":4.2694,"y":0.645},
{"series":"Europa","x":4.2734,"y":0.679},
{"series":"Europa","x":4.2773,"y":0.719},
{"series":"Europa","x":4.2825,"y":0.770},
{"series":"Europa","x":4.2864,"y":0.793},
{"series":"Europa","x":4.2916,"y":0.821},
{"series":"Europa","x":4.2950,"y":0.816},
{"series":"Europa","x":4.2990,"y":0.822},
{"series":"Europa","x":4.3030,"y":0.818},
{"series":"Europa","x":4.3070,"y":0.815},
{"series":"Europa","x":4.3110,"y":0.820},
{"series":"Europa","x":4.3150,"y":0.818},
{"series":"Europa","x":4.3200,"y":0.820},
{"series":"Europa","x":4.3250,"y":0.815},
{"series":"Europa","x":4.3300,"y":0.823},
{"series":"Europa","x":4.3350,"y":0.816},
{"series":"Europa","x":4.3400,"y":0.819},
{"series":"Europa","x":4.3450,"y":0.824},
{"series":"Europa","x":4.3485,"y":0.813},
{"series":"Ganymede (equator)","x":4.1514,"y":0.651},
{"series":"Ganymede (equator)","x":4.1545,"y":0.645},
{"series":"Ganymede (equator)","x":4.1580,"y":0.650},
{"series":"Ganymede (equator)","x":4.1620,"y":0.648},
{"series":"Ganymede (equator)","x":4.1660,"y":0.652},
{"series":"Ganymede (equator)","x":4.1700,"y":0.649},
{"series":"Ganymede (equator)","x":4.1740,"y":0.651},
{"series":"Ganymede (equator)","x":4.1780,"y":0.647},
{"series":"Ganymede (equator)","x":4.1820,"y":0.650},
{"series":"Ganymede (equator)","x":4.1846,"y":0.656},
{"series":"Ganymede (equator)","x":4.1880,"y":0.648},
{"series":"Ganymede (equator)","x":4.1920,"y":0.646},
{"series":"Ganymede (equator)","x":4.1960,"y":0.645},
{"series":"Ganymede (equator)","x":4.2000,"y":0.643},
{"series":"Ganymede (equator)","x":4.2055,"y":0.637},
{"series":"Ganymede (equator)","x":4.2100,"y":0.635},
{"series":"Ganymede (equator)","x":4.2140,"y":0.633},
{"series":"Ganymede (equator)","x":4.2164,"y":0.650},
{"series":"Ganymede (equator)","x":4.2185,"y":0.630},
{"series":"Ganymede (equator)","x":4.2237,"y":0.611},
{"series":"Ganymede (equator)","x":4.2280,"y":0.595},
{"series":"Ganymede (equator)","x":4.2316,"y":0.577},
{"series":"Ganymede (equator)","x":4.2355,"y":0.552},
{"series":"Ganymede (equator)","x":4.2394,"y":0.526},
{"series":"Ganymede (equator)","x":4.2446,"y":0.486},
{"series":"Ganymede (equator)","x":4.2499,"y":0.458},
{"series":"Ganymede (equator)","x":4.2551,"y":0.447},
{"series":"Ganymede (equator)","x":4.2590,"y":0.438},
{"series":"Ganymede (equator)","x":4.2642,"y":0.447},
{"series":"Ganymede (equator)","x":4.2681,"y":0.475},
{"series":"Ganymede (equator)","x":4.2734,"y":0.532},
{"series":"Ganymede (equator)","x":4.2785,"y":0.583},
{"series":"Ganymede (equator)","x":4.2838,"y":0.611},
{"series":"Ganymede (equator)","x":4.2880,"y":0.628},
{"series":"Ganymede (equator)","x":4.2916,"y":0.639},
{"series":"Ganymede (equator)","x":4.2960,"y":0.645},
{"series":"Ganymede (equator)","x":4.3020,"y":0.651},
{"series":"Ganymede (equator)","x":4.3070,"y":0.650},
{"series":"Ganymede (equator)","x":4.3110,"y":0.652},
{"series":"Ganymede (equator)","x":4.3150,"y":0.655},
{"series":"Ganymede (equator)","x":4.3200,"y":0.653},
{"series":"Ganymede (equator)","x":4.3255,"y":0.659},
{"series":"Ganymede (equator)","x":4.3300,"y":0.652},
{"series":"Ganymede (equator)","x":4.3350,"y":0.655},
{"series":"Ganymede (equator)","x":4.3400,"y":0.650},
{"series":"Ganymede (equator)","x":4.3450,"y":0.647},
{"series":"Ganymede (equator)","x":4.3485,"y":0.642},
{"series":"Ganymede (pole)","x":4.1507,"y":0.535},
{"series":"Ganymede (pole)","x":4.1545,"y":0.540},
{"series":"Ganymede (pole)","x":4.1580,"y":0.536},
{"series":"Ganymede (pole)","x":4.1620,"y":0.541},
{"series":"Ganymede (pole)","x":4.1650,"y":0.538},
{"series":"Ganymede (pole)","x":4.1689,"y":0.546},
{"series":"Ganymede (pole)","x":4.1720,"y":0.537},
{"series":"Ganymede (pole)","x":4.1760,"y":0.542},
{"series":"Ganymede (pole)","x":4.1800,"y":0.539},
{"series":"Ganymede (pole)","x":4.1840,"y":0.545},
{"series":"Ganymede (pole)","x":4.1880,"y":0.538},
{"series":"Ganymede (pole)","x":4.1920,"y":0.541},
{"series":"Ganymede (pole)","x":4.1963,"y":0.543},
{"series":"Ganymede (pole)","x":4.2000,"y":0.533},
{"series":"Ganymede (pole)","x":4.2042,"y":0.520},
{"series":"Ganymede (pole)","x":4.2080,"y":0.530},
{"series":"Ganymede (pole)","x":4.2120,"y":0.525},
{"series":"Ganymede (pole)","x":4.2186,"y":0.520},
{"series":"Ganymede (pole)","x":4.2230,"y":0.512},
{"series":"Ganymede (pole)","x":4.2264,"y":0.506},
{"series":"Ganymede (pole)","x":4.2316,"y":0.495},
{"series":"Ganymede (pole)","x":4.2394,"y":0.475},
{"series":"Ganymede (pole)","x":4.2472,"y":0.452},
{"series":"Ganymede (pole)","x":4.2525,"y":0.435},
{"series":"Ganymede (pole)","x":4.2603,"y":0.418},
{"series":"Ganymede (pole)","x":4.2655,"y":0.401},
{"series":"Ganymede (pole)","x":4.2681,"y":0.384},
{"series":"Ganymede (pole)","x":4.2720,"y":0.401},
{"series":"Ganymede (pole)","x":4.2740,"y":0.440},
{"series":"Ganymede (pole)","x":4.2760,"y":0.481},
{"series":"Ganymede (pole)","x":4.2785,"y":0.503},
{"series":"Ganymede (pole)","x":4.2838,"y":0.532},
{"series":"Ganymede (pole)","x":4.2880,"y":0.535},
{"series":"Ganymede (pole)","x":4.2920,"y":0.540},
{"series":"Ganymede (pole)","x":4.2960,"y":0.537},
{"series":"Ganymede (pole)","x":4.3000,"y":0.541},
{"series":"Ganymede (pole)","x":4.3050,"y":0.538},
{"series":"Ganymede (pole)","x":4.3100,"y":0.539},
{"series":"Ganymede (pole)","x":4.3150,"y":0.543},
{"series":"Ganymede (pole)","x":4.3200,"y":0.538},
{"series":"Ganymede (pole)","x":4.3250,"y":0.544},
{"series":"Ganymede (pole)","x":4.3282,"y":0.549},
{"series":"Ganymede (pole)","x":4.3320,"y":0.540},
{"series":"Ganymede (pole)","x":4.3360,"y":0.538},
{"series":"Ganymede (pole)","x":4.3400,"y":0.545},
{"series":"Ganymede (pole)","x":4.3450,"y":0.540},
{"series":"Ganymede (pole)","x":4.3485,"y":0.537},
{"series":"Callisto (leading)","x":4.1507,"y":0.481},
{"series":"Callisto (leading)","x":4.1545,"y":0.488},
{"series":"Callisto (leading)","x":4.1580,"y":0.476},
{"series":"Callisto (leading)","x":4.1620,"y":0.485},
{"series":"Callisto (leading)","x":4.1660,"y":0.479},
{"series":"Callisto (leading)","x":4.1700,"y":0.484},
{"series":"Callisto (leading)","x":4.1735,"y":0.488},
{"series":"Callisto (leading)","x":4.1768,"y":0.489},
{"series":"Callisto (leading)","x":4.1800,"y":0.480},
{"series":"Callisto (leading)","x":4.1840,"y":0.484},
{"series":"Callisto (leading)","x":4.1880,"y":0.478},
{"series":"Callisto (leading)","x":4.1920,"y":0.482},
{"series":"Callisto (leading)","x":4.1960,"y":0.476},
{"series":"Callisto (leading)","x":4.2000,"y":0.473},
{"series":"Callisto (leading)","x":4.2055,"y":0.466},
{"series":"Callisto (leading)","x":4.2100,"y":0.463},
{"series":"Callisto (leading)","x":4.2140,"y":0.458},
{"series":"Callisto (leading)","x":4.2186,"y":0.447},
{"series":"Callisto (leading)","x":4.2237,"y":0.435},
{"series":"Callisto (leading)","x":4.2290,"y":0.418},
{"series":"Callisto (leading)","x":4.2342,"y":0.390},
{"series":"Callisto (leading)","x":4.2394,"y":0.356},
{"series":"Callisto (leading)","x":4.2420,"y":0.330},
{"series":"Callisto (leading)","x":4.2446,"y":0.316},
{"series":"Callisto (leading)","x":4.2472,"y":0.299},
{"series":"Callisto (leading)","x":4.2511,"y":0.276},
{"series":"Callisto (leading)","x":4.2550,"y":0.279},
{"series":"Callisto (leading)","x":4.2577,"y":0.282},
{"series":"Callisto (leading)","x":4.2629,"y":0.293},
{"series":"Callisto (leading)","x":4.2681,"y":0.316},
{"series":"Callisto (leading)","x":4.2694,"y":0.327},
{"series":"Callisto (leading)","x":4.2720,"y":0.367},
{"series":"Callisto (leading)","x":4.2760,"y":0.407},
{"series":"Callisto (leading)","x":4.2812,"y":0.435},
{"series":"Callisto (leading)","x":4.2850,"y":0.452},
{"series":"Callisto (leading)","x":4.2890,"y":0.464},
{"series":"Callisto (leading)","x":4.2930,"y":0.475},
{"series":"Callisto (leading)","x":4.2969,"y":0.483},
{"series":"Callisto (leading)","x":4.3010,"y":0.480},
{"series":"Callisto (leading)","x":4.3050,"y":0.474},
{"series":"Callisto (leading)","x":4.3100,"y":0.485},
{"series":"Callisto (leading)","x":4.3150,"y":0.480},
{"series":"Callisto (leading)","x":4.3200,"y":0.484},
{"series":"Callisto (leading)","x":4.3250,"y":0.478},
{"series":"Callisto (leading)","x":4.3282,"y":0.492},
{"series":"Callisto (leading)","x":4.3320,"y":0.481},
{"series":"Callisto (leading)","x":4.3360,"y":0.476},
{"series":"Callisto (leading)","x":4.3400,"y":0.494},
{"series":"Callisto (leading)","x":4.3450,"y":0.482},
{"series":"Callisto (leading)","x":4.3485,"y":0.481},
{"series":"Callisto (trailing)","x":4.1507,"y":0.432},
{"series":"Callisto (trailing)","x":4.1528,"y":0.458},
{"series":"Callisto (trailing)","x":4.1560,"y":0.430},
{"series":"Callisto (trailing)","x":4.1611,"y":0.418},
{"series":"Callisto (trailing)","x":4.1650,"y":0.432},
{"series":"Callisto (trailing)","x":4.1690,"y":0.428},
{"series":"Callisto (trailing)","x":4.1730,"y":0.430},
{"series":"Callisto (trailing)","x":4.1770,"y":0.425},
{"series":"Callisto (trailing)","x":4.1810,"y":0.433},
{"series":"Callisto (trailing)","x":4.1840,"y":0.428},
{"series":"Callisto (trailing)","x":4.1872,"y":0.441},
{"series":"Callisto (trailing)","x":4.1920,"y":0.428},
{"series":"Callisto (trailing)","x":4.1960,"y":0.425},
{"series":"Callisto (trailing)","x":4.2000,"y":0.420},
{"series":"Callisto (trailing)","x":4.2029,"y":0.415},
{"series":"Callisto (trailing)","x":4.2060,"y":0.410},
{"series":"Callisto (trailing)","x":4.2094,"y":0.404},
{"series":"Callisto (trailing)","x":4.2120,"y":0.378},
{"series":"Callisto (trailing)","x":4.2150,"y":0.360},
{"series":"Callisto (trailing)","x":4.2186,"y":0.339},
{"series":"Callisto (trailing)","x":4.2237,"y":0.296},
{"series":"Callisto (trailing)","x":4.2290,"y":0.231},
{"series":"Callisto (trailing)","x":4.2342,"y":0.186},
{"series":"Callisto (trailing)","x":4.2394,"y":0.140},
{"series":"Callisto (trailing)","x":4.2441,"y":0.083},
{"series":"Callisto (trailing)","x":4.2486,"y":0.049},
{"series":"Callisto (trailing)","x":4.2511,"y":0.032},
{"series":"Callisto (trailing)","x":4.2551,"y":0.083},
{"series":"Callisto (trailing)","x":4.2603,"y":0.112},
{"series":"Callisto (trailing)","x":4.2655,"y":0.157},
{"series":"Callisto (trailing)","x":4.2694,"y":0.197},
{"series":"Callisto (trailing)","x":4.2734,"y":0.242},
{"series":"Callisto (trailing)","x":4.2773,"y":0.299},
{"series":"Callisto (trailing)","x":4.2799,"y":0.322},
{"series":"Callisto (trailing)","x":4.2838,"y":0.390},
{"series":"Callisto (trailing)","x":4.2870,"y":0.410},
{"series":"Callisto (trailing)","x":4.2903,"y":0.418},
{"series":"Callisto (trailing)","x":4.2950,"y":0.430},
{"series":"Callisto (trailing)","x":4.2994,"y":0.438},
{"series":"Callisto (trailing)","x":4.3040,"y":0.430},
{"series":"Callisto (trailing)","x":4.3080,"y":0.428},
{"series":"Callisto (trailing)","x":4.3120,"y":0.432},
{"series":"Callisto (trailing)","x":4.3160,"y":0.426},
{"series":"Callisto (trailing)","x":4.3204,"y":0.412},
{"series":"Callisto (trailing)","x":4.3250,"y":0.433},
{"series":"Callisto (trailing)","x":4.3300,"y":0.428},
{"series":"Callisto (trailing)","x":4.3350,"y":0.430},
{"series":"Callisto (trailing)","x":4.3400,"y":0.426},
{"series":"Callisto (trailing)","x":4.3450,"y":0.432},
{"series":"Callisto (trailing)","x":4.3485,"y":0.424}
 ],
 "lrules": [{"x": 2.6975}, {"x": 2.709}],
 "rrules": [{"x": 4.25}, {"x": 4.27}],
 "lbreaks": [{"x": 2.7289, "x2": 2.7307, "y": 1.497, "y2": 1.541}, {"x": 2.7289, "x2": 2.7307, "y": -0.022, "y2": 0.022}],
 "rbreaks": [{"x": 4.1374, "x2": 4.1436, "y": 1.497, "y2": 1.541}, {"x": 4.1374, "x2": 4.1436, "y": -0.022, "y2": 0.022}]
},
"spacing": 26,
"bounds": "flush",
"resolve": {"scale": {"x": "independent", "y": "independent", "color": "independent"}, "legend": {"color": "independent"}},
"hconcat": [
 {
  "width": 267, "height": 892,
  "title": {"text": "CO₂ v₁+v₃", "baseline": "alphabetic", "offset": -20, "dx": 0},
  "resolve": {"axis": {"x": "independent"}},
  "layer": [
   {
    "data": {"name": "left"},
    "mark": {"type": "line", "strokeWidth": 2},
    "encoding": {
     "x": {"field": "x", "type": "quantitative", "scale": {"domain": [2.67, 2.73], "nice": false, "zero": false},
       "axis": {"orient": "bottom", "values": [2.67,2.675,2.68,2.685,2.69,2.695,2.7,2.705,2.71,2.715,2.72,2.725,2.73],
         "labelExpr": "abs(datum.value*50-round(datum.value*50))<0.001 ? format(datum.value,'.2f') : ''",
         "labelOverlap": false, "labelPadding": 4,
         "tickSize": {"condition": {"test": "abs(datum.value*50-round(datum.value*50))<0.001", "value": 5}, "value": 3},
         "title": "Wavelength (µm)", "titleX": 270, "titleY": 47, "titleBaseline": "alphabetic", "titleAlign": "center", "titleAnchor": "start"}},
     "y": {"field": "y", "type": "quantitative", "scale": {"domain": [0, 1.52], "nice": false, "zero": false},
       "axis": {"orient": "left", "values": [0,0.05,0.1,0.15,0.2,0.25,0.3,0.35,0.4,0.45,0.5,0.55,0.6,0.65,0.7,0.75,0.8,0.85,0.9,0.95,1,1.05,1.1,1.15,1.2,1.25,1.3,1.35,1.4,1.45,1.5],
         "labelExpr": "abs(datum.value*5-round(datum.value*5))<0.001 ? format(datum.value,'.1f') : ''",
         "labelOverlap": false, "labelPadding": 5,
         "tickSize": {"condition": {"test": "abs(datum.value*5-round(datum.value*5))<0.001", "value": 5}, "value": 3},
         "title": "Continuum-removed reflectance", "titlePadding": 8}},
     "color": {"field": "series", "type": "nominal",
       "scale": {"domain": ["Inner sats. avg. (excl. trailing Dione & Rhea)","Dione & Rhea (trailing)","Iapetus (leading)","Iapetus (trailing)","Hyperion","Europa","Ganymede (equator)","Ganymede (pole)","Callisto (leading)","Callisto (trailing)"],
                 "range": ["#ff0000","#ff8c00","#000000","#0000ff","#00ff7f","#daa520","#9400d3","#00ced1","#a9a9a9","#ff69b4"]},
       "legend": {"orient": "none", "legendX": 11, "legendY": 535, "title": null, "padding": 0,
         "labelFontSize": 21.5, "labelColor": "#000", "labelLimit": 0, "labelOffset": 7,
         "symbolType": "stroke", "symbolSize": 961, "symbolStrokeWidth": 2.5, "rowPadding": 4,
         "labelExpr": "datum.label == 'Inner sats. avg. (excl. trailing Dione & Rhea)' ? ['Inner sats. avg. (excl.', 'trailing Dione & Rhea)'] : datum.label"}}
    }
   },
   {
    "data": {"name": "lrules"},
    "mark": {"type": "rule", "color": "#808080", "strokeDash": [8, 3.5], "strokeWidth": 2},
    "encoding": {
     "x": {"field": "x", "type": "quantitative", "scale": {"domain": [2.67, 2.73], "nice": false, "zero": false},
       "axis": {"orient": "top", "ticks": false, "labels": false, "domain": true, "title": null, "minExtent": 0, "maxExtent": 0}}
    }
   },
   {
    "data": {"name": "lbreaks"},
    "mark": {"type": "rule", "color": "#000", "strokeWidth": 1.5},
    "encoding": {
     "x": {"field": "x", "type": "quantitative", "scale": {"domain": [2.67, 2.73], "nice": false, "zero": false}, "axis": null},
     "x2": {"field": "x2"},
     "y": {"field": "y", "type": "quantitative", "scale": {"domain": [0, 1.52], "nice": false, "zero": false}},
     "y2": {"field": "y2"}
    }
   }
  ]
 },
 {
  "width": 265, "height": 892,
  "title": {"text": "CO₂ v₃", "baseline": "alphabetic", "offset": -20, "dx": 11},
  "resolve": {"axis": {"x": "independent"}},
  "layer": [
   {
    "data": {"name": "right"},
    "mark": {"type": "line", "strokeWidth": 2},
    "encoding": {
     "x": {"field": "x", "type": "quantitative", "scale": {"domain": [4.142, 4.349], "nice": false, "zero": false},
       "axis": {"orient": "bottom", "values": [4.16,4.18,4.2,4.22,4.24,4.26,4.28,4.3,4.32,4.34],
         "labelExpr": "abs(datum.value*10-round(datum.value*10))<0.001 ? format(datum.value,'.1f') : ''",
         "labelOverlap": false, "labelPadding": 4,
         "tickSize": {"condition": {"test": "abs(datum.value*10-round(datum.value*10))<0.001", "value": 5}, "value": 3},
         "title": null}},
     "y": {"field": "y", "type": "quantitative", "scale": {"domain": [0, 1.52], "nice": false, "zero": false},
       "axis": {"orient": "right", "values": [0,0.05,0.1,0.15,0.2,0.25,0.3,0.35,0.4,0.45,0.5,0.55,0.6,0.65,0.7,0.75,0.8,0.85,0.9,0.95,1,1.05,1.1,1.15,1.2,1.25,1.3,1.35,1.4,1.45,1.5],
         "labels": false,
         "tickSize": {"condition": {"test": "abs(datum.value*5-round(datum.value*5))<0.001", "value": 5}, "value": 3},
         "title": null}},
     "color": {"field": "series", "type": "nominal",
       "scale": {"domain": ["Inner sats. avg. (excl. trailing Dione & Rhea)","Dione & Rhea (trailing)","Iapetus (leading)","Iapetus (trailing)","Hyperion","Europa","Ganymede (equator)","Ganymede (pole)","Callisto (leading)","Callisto (trailing)"],
                 "range": ["#ff0000","#ff8c00","#000000","#0000ff","#00ff7f","#daa520","#9400d3","#00ced1","#a9a9a9","#ff69b4"]},
       "legend": null}
    }
   },
   {
    "data": {"name": "rrules"},
    "mark": {"type": "rule", "color": "#808080", "strokeDash": [8, 3.5], "strokeWidth": 2},
    "encoding": {
     "x": {"field": "x", "type": "quantitative", "scale": {"domain": [4.142, 4.349], "nice": false, "zero": false},
       "axis": {"orient": "top", "ticks": false, "labels": false, "domain": true, "title": null, "minExtent": 0, "maxExtent": 0}}
    }
   },
   {
    "data": {"name": "rbreaks"},
    "mark": {"type": "rule", "color": "#000", "strokeWidth": 1.5},
    "encoding": {
     "x": {"field": "x", "type": "quantitative", "scale": {"domain": [4.142, 4.349], "nice": false, "zero": false}, "axis": null},
     "x2": {"field": "x2"},
     "y": {"field": "y", "type": "quantitative", "scale": {"domain": [0, 1.52], "nice": false, "zero": false}},
     "y2": {"field": "y2"}
    }
   }
  ]
 }
]
}
